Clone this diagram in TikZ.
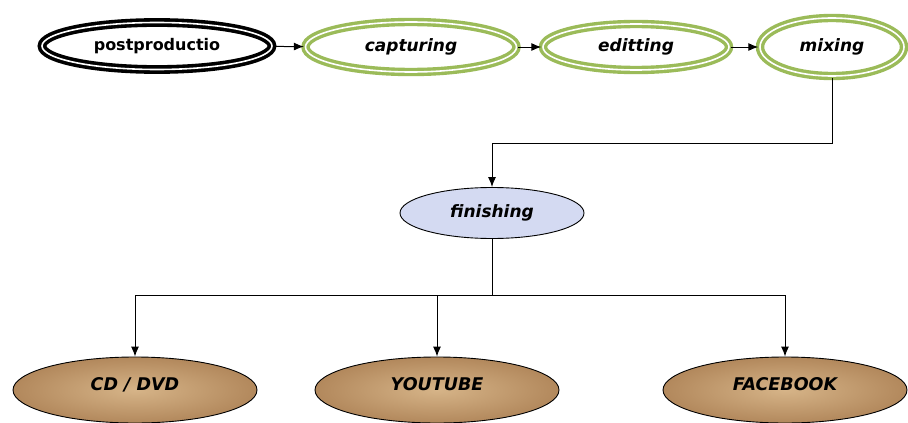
\documentclass[tikz,border=0pt]{standalone}
\usepackage{fontspec}
\setsansfont{DejaVu Sans}
\usetikzlibrary{shapes.geometric,arrows.meta}
\definecolor{olive}{RGB}{155,187,89}
\definecolor{paper}{RGB}{178,136,92}
\definecolor{paperlight}{RGB}{214,180,136}
\definecolor{mist}{RGB}{212,218,242}
\begin{document}
\begin{tikzpicture}[x=1pt,y=-1pt,
  oval/.style={ellipse,inner sep=0pt,font=\sffamily\bfseries\itshape\fontsize{17}{17}\selectfont},
  ringblack/.style={oval,draw=black,line width=3.6pt,double=white,double distance=1.6pt,font=\sffamily\bfseries\fontsize{16}{16}\selectfont},
  ringgreen/.style={oval,draw=olive,line width=3.4pt,double=white,double distance=1.6pt},
  cloud/.style={oval,draw=black,line width=.9pt,fill=mist},
  paperoval/.style={oval,draw=black,line width=.9pt,inner color=paperlight,outer color=paper,
    text depth=12pt,font=\sffamily\bfseries\itshape\fontsize{17.5}{17.5}\selectfont},
  link/.style={line width=1pt,-{Latex[length=10pt,width=8pt]}}]
  \useasboundingbox (0,0) rectangle (908,423);
  % top row
  \node[ringblack,minimum width=230,minimum height=47] (pp) at (157,46) {postproductio};
  \node[ringgreen,minimum width=211,minimum height=50] (cap) at (411,47) {capturing};
  \node[ringgreen,minimum width=186,minimum height=46] (edit) at (636,47) {editting};
  \node[ringgreen,minimum width=144,minimum height=58] (mix) at (832,47) {mixing};
  \draw[link] (pp) -- (cap);
  \draw[link] (cap) -- (edit);
  \draw[link] (edit) -- (mix);
  % middle
  \node[cloud,minimum width=184,minimum height=51] (fin) at (492,213) {finishing};
  \draw[link] (mix.south) -- ++(0,66) -| (fin.north);
  % bottom row
  \foreach \nm/\x/\txt in {cd/135/{CD / DVD},yt/437/YOUTUBE,fb/785/FACEBOOK}
    \node[paperoval,minimum width=244,minimum height=66] (\nm) at (\x,390) {\txt};
  \draw[line width=1pt] (fin.south) -- ++(0,57) coordinate (hub);
  \foreach \nm in {cd,yt,fb}
    \draw[link] (hub) -| (\nm.north);
\end{tikzpicture}
\end{document}
